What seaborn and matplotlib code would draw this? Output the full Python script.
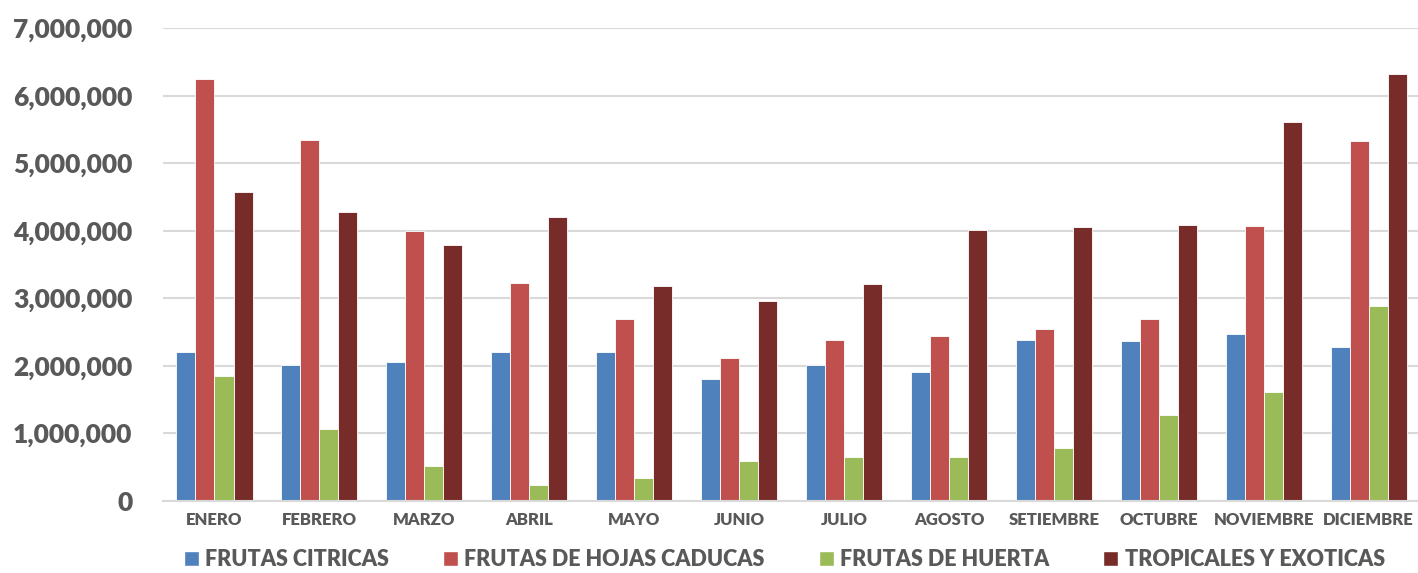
import pandas as pd
import matplotlib.pyplot as plt
import matplotlib.ticker as mticker
from matplotlib.patches import Patch
import seaborn as sns

# Monthly volumes per fruit group
meses = ['ENERO', 'FEBRERO', 'MARZO', 'ABRIL', 'MAYO', 'JUNIO', 'JULIO',
         'AGOSTO', 'SETIEMBRE', 'OCTUBRE', 'NOVIEMBRE', 'DICIEMBRE']
series = ['FRUTAS CITRICAS', 'FRUTAS DE HOJAS CADUCAS', 'FRUTAS DE HUERTA',
          'TROPICALES Y EXOTICAS']
citricas = [2200000, 2010000, 2060000, 2200000, 2200000, 1800000,
            2010000, 1910000, 2380000, 2370000, 2470000, 2280000]
caducas = [6240000, 5340000, 4000000, 3220000, 2690000, 2110000,
           2380000, 2440000, 2540000, 2690000, 4070000, 5330000]
huerta = [1850000, 1060000, 520000, 240000, 340000, 590000,
          650000, 650000, 780000, 1270000, 1610000, 2880000]
tropicales = [4570000, 4270000, 3790000, 4200000, 3180000, 2960000,
              3210000, 4010000, 4050000, 4080000, 5610000, 6320000]
colores = ['#4F81BD', '#C0504D', '#9BBB59', '#772C2A']

df = pd.DataFrame({'mes': meses * 4,
                   'serie': [s for s in series for _ in meses],
                   'valor': citricas + caducas + huerta + tropicales})

sns.set_style('white')
plt.rcParams['font.family'] = ['Lato', 'DejaVu Sans']
gris = '#595959'

fig = plt.figure(figsize=(14.18, 5.73), dpi=100)
ax = fig.add_axes([0.115, 0.126, 0.885, 0.825])

sns.barplot(data=df, x='mes', y='valor', hue='serie', order=meses,
            hue_order=series, palette=colores, width=0.725, saturation=1,
            edgecolor='white', linewidth=0.6, ax=ax, legend=False)

ax.set_ylim(0, 7000000)
ax.set_xlim(-0.49, 11.47)
ax.yaxis.set_major_locator(mticker.MultipleLocator(1000000))
ax.yaxis.set_major_formatter(mticker.FuncFormatter(lambda v, p: f'{int(v):,}'))
ax.grid(axis='y', color='#D9D9D9', linewidth=1.5)
ax.set_axisbelow(True)
for s in ['top', 'right', 'left']:
    ax.spines[s].set_visible(False)
ax.spines['bottom'].set_color('#D9D9D9')
ax.spines['bottom'].set_linewidth(1.5)
ax.set_xlabel('')
ax.set_ylabel('')
ax.tick_params(axis='y', length=0, pad=22, labelsize=19, labelcolor=gris)
ax.tick_params(axis='x', length=0, pad=8, labelsize=12, labelcolor=gris)
for lbl in ax.get_xticklabels() + ax.get_yticklabels():
    lbl.set_fontweight('heavy')

handles = [Patch(facecolor=c, label=s) for c, s in zip(colores, series)]
leg = fig.legend(handles=handles, loc='lower center', ncol=4, frameon=False,
                 bbox_to_anchor=(0.553, -0.028), handlelength=0.7, handleheight=0.7,
                 handletextpad=0.3, columnspacing=2.5,
                 prop={'size': 15.5, 'weight': 'heavy'})
for t in leg.get_texts():
    t.set_color(gris)

fig.savefig('out.png', dpi=100)
